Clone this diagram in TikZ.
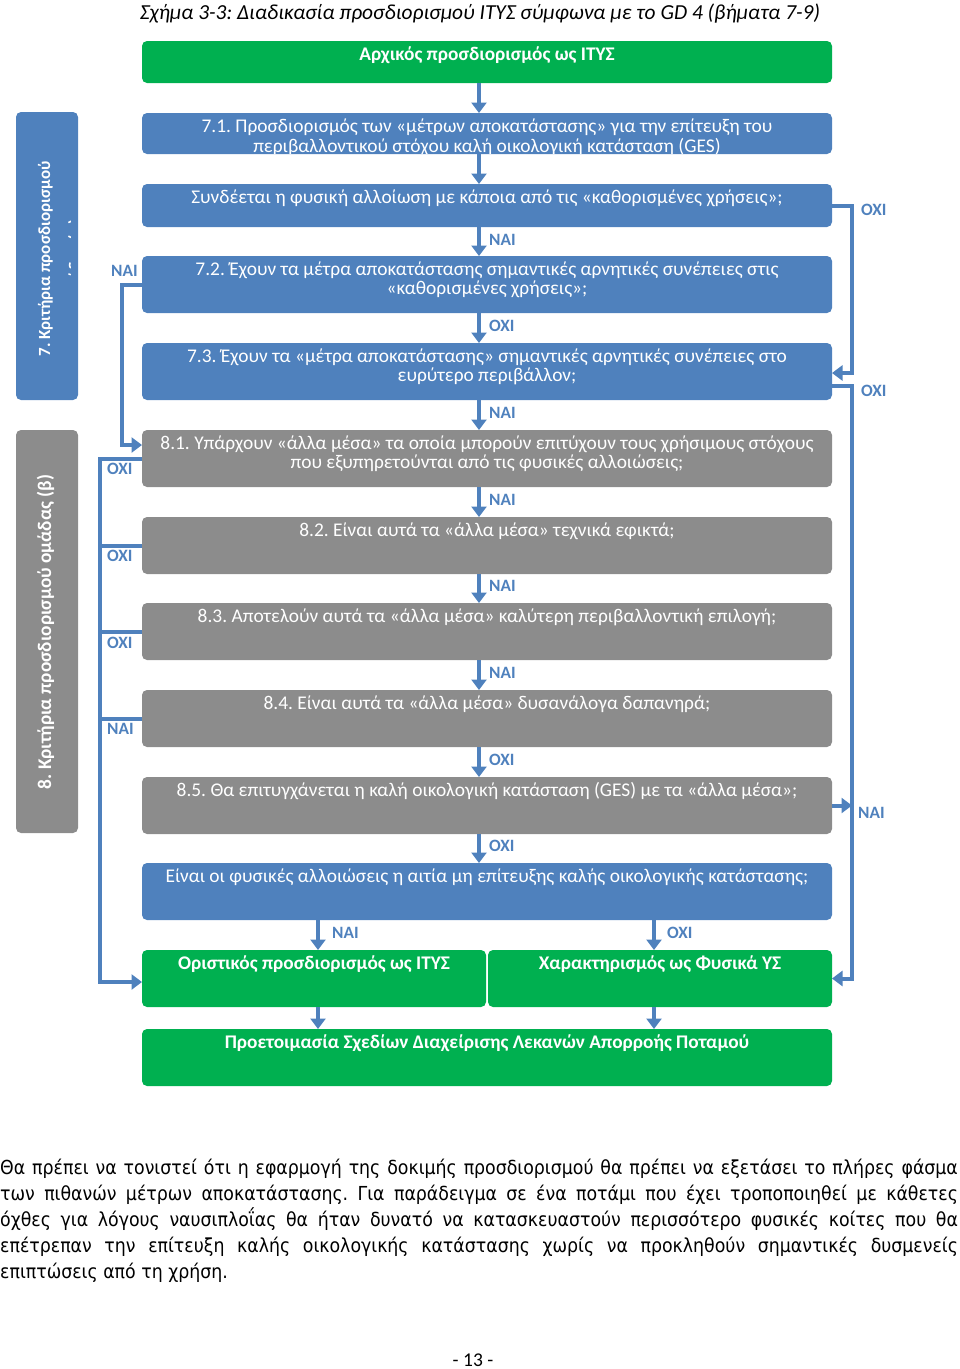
\documentclass[tikz,border=0pt]{standalone}
\usepackage{fontspec}
\setmainfont{Carlito}
\newfontfamily\parafont{DejaVu Sans Condensed}
\usetikzlibrary{arrows.meta,calc}
\definecolor{cblue}{HTML}{4F81BD}
\definecolor{cgreen}{HTML}{00B050}
\definecolor{cgray}{HTML}{8C8C8C}
\frenchspacing
\begin{document}
\begin{tikzpicture}[x=1pt, y=-1pt, line join=miter,
  box/.style={rounded corners=5pt, anchor=north west, inner sep=0pt, outer sep=0pt, minimum width=690pt},
  bbox/.style={box, fill=cblue},
  gbox/.style={box, fill=cgray},
  grbox/.style={box, fill=cgreen},
  btxt/.style={text=white, font=\fontsize{19.4}{19.5}\selectfont, align=center, anchor=base, inner sep=0pt},
  gtxt/.style={btxt, font=\bfseries\fontsize{19.3}{19.5}\selectfont},
  vtxt/.style={rotate=90, anchor=base, text=white, font=\bfseries\fontsize{17}{20}\selectfont, inner sep=0pt},
  lbl/.style={text=cblue, font=\bfseries\fontsize{17.3}{18}\selectfont, inner sep=0pt, anchor=west},
  conn/.style={draw=cblue, line width=4pt},
  arr/.style={conn, -{Triangle[width=15pt,length=10.5pt]}}
]
\useasboundingbox (0,0) rectangle (960,1369);

% title
\node[font=\itshape\fontsize{21.4}{23}\selectfont, anchor=base, inner sep=0pt] (title) at (480,19)
  {Σχήμα 3-3: Διαδικασία προσδιορισμού ΙΤΥΣ σύμφωνα με το GD 4 (βήματα 7-9)};

% named columns
\coordinate (XC) at (479,0);
\coordinate (XA) at (318,0);
\coordinate (XB) at (654,0);
\coordinate (LL) at (100,0);
\coordinate (LN) at (122,0);
\coordinate (RR) at (852,0);

% top green
\node[grbox, minimum height=42pt] (g0) at (142,41) {};
\node[gtxt] (t0) at (487,60) {Αρχικός προσδιορισμός ως ΙΤΥΣ};

% blue boxes
\node[bbox, minimum height=41pt] (b71) at (142,113) {};
\begin{scope}
  \clip (142,113) rectangle (832,153.5);
  \node[btxt] (t71) at (487,152) {7.1. Προσδιορισμός των «μέτρων αποκατάστασης» για την επίτευξη του\\περιβαλλοντικού στόχου καλή οικολογική κατάσταση (GES)};
\end{scope}
\node[bbox, minimum height=43pt] (b7q) at (142,184) {};
\node[btxt] (t7q) at (487,203.5) {Συνδέεται η φυσική αλλοίωση με κάποια από τις «καθορισμένες χρήσεις»;};
\node[bbox, minimum height=57pt] (b72) at (142,256) {};
\node[btxt] (t72) at (487,294.5) {7.2. Έχουν τα μέτρα αποκατάστασης σημαντικές αρνητικές συνέπειες στις\\«καθορισμένες χρήσεις»;};
\node[bbox, minimum height=57pt] (b73) at (142,343) {};
\node[btxt] (t73) at (487,381.5) {7.3. Έχουν τα «μέτρα αποκατάστασης» σημαντικές αρνητικές συνέπειες στο\\ευρύτερο περιβάλλον;};

% gray boxes
\node[gbox, minimum height=57pt] (g81) at (142,430) {};
\node[btxt] (t81) at (487,468.5) {8.1. Υπάρχουν «άλλα μέσα» τα οποία μπορούν επιτύχουν τους χρήσιμους στόχους\\που εξυπηρετούνται από τις φυσικές αλλοιώσεις;};
\node[gbox, minimum height=57pt] (g82) at (142,517) {};
\node[btxt] (t82) at (487,536) {8.2. Είναι αυτά τα «άλλα μέσα» τεχνικά εφικτά;};
\node[gbox, minimum height=57pt] (g83) at (142,603) {};
\node[btxt] (t83) at (487,622) {8.3. Αποτελούν αυτά τα «άλλα μέσα» καλύτερη περιβαλλοντική επιλογή;};
\node[gbox, minimum height=57pt] (g84) at (142,690) {};
\node[btxt] (t84) at (487,709) {8.4. Είναι αυτά τα «άλλα μέσα» δυσανάλογα δαπανηρά;};
\node[gbox, minimum height=57pt] (g85) at (142,777) {};
\node[btxt] (t85) at (487,796) {8.5. Θα επιτυγχάνεται η καλή οικολογική κατάσταση (GES) με τα «άλλα μέσα»;};

% final blue
\node[bbox, minimum height=57pt] (b9) at (142,863) {};
\node[btxt] (t9) at (487,882) {Είναι οι φυσικές αλλοιώσεις η αιτία μη επίτευξης καλής οικολογικής κατάστασης;};

% green results
\node[grbox, minimum width=344pt, minimum height=57pt] (g1) at (142,950) {};
\node[gtxt] (tg1) at (314,969) {Οριστικός προσδιορισμός ως ΙΤΥΣ};
\node[grbox, minimum width=344pt, minimum height=57pt] (g2) at (488,950) {};
\node[gtxt] (tg2) at (660,969) {Χαρακτηρισμός ως Φυσικά ΥΣ};
\node[grbox, minimum height=57pt] (g3) at (142,1029) {};
\node[gtxt] (tg3) at (487,1048) {Προετοιμασία Σχεδίων Διαχείρισης Λεκανών Απορροής Ποταμού};

% side boxes
\node[box, fill=cblue, minimum width=62pt, minimum height=288pt] (v7) at (16,112) {};
\begin{scope}
  \clip (16,112) rectangle (70,400);
  \node[vtxt] (v7t) at (50,259) {7. Κριτήρια προσδιορισμού};
  \node[vtxt] (v7u) at (80.5,259) {ομάδας (α)};
\end{scope}
\node[box, fill=cgray, minimum width=62pt, minimum height=403pt] (v8) at (16,430) {};
\node[vtxt, font=\bfseries\fontsize{19.3}{20}\selectfont] (v8t) at (51,632) {8. Κριτήρια προσδιορισμού ομάδας (β)};

% central arrows
\draw[arr] (g0.south -| XC) -- (b71.north -| XC);
\draw[arr] (b71.south -| XC) -- (b7q.north -| XC);
\draw[arr] (b7q.south -| XC) -- (b72.north -| XC);
\draw[arr] (b72.south -| XC) -- (b73.north -| XC);
\draw[arr] (b73.south -| XC) -- (g81.north -| XC);
\draw[arr] (g81.south -| XC) -- (g82.north -| XC);
\draw[arr] (g82.south -| XC) -- (g83.north -| XC);
\draw[arr] (g83.south -| XC) -- (g84.north -| XC);
\draw[arr] (g84.south -| XC) -- (g85.north -| XC);
\draw[arr] (g85.south -| XC) -- (b9.north -| XC);
\node[lbl] (l1) at (489,240) {ΝΑΙ};
\node[lbl] (l2) at (489,326) {ΟΧΙ};
\node[lbl] (l3) at (489,413) {ΝΑΙ};
\node[lbl] (l4) at (489,500) {ΝΑΙ};
\node[lbl] (l5) at (489,586) {ΝΑΙ};
\node[lbl] (l6) at (489,673) {ΝΑΙ};
\node[lbl] (l7) at (489,760) {ΟΧΙ};
\node[lbl] (l8) at (489,846) {ΟΧΙ};

% bottom arrows
\draw[arr] (b9.south -| XA) -- (g1.north -| XA);
\draw[arr] (b9.south -| XB) -- (g2.north -| XB);
\draw[arr] (g1.south -| XA) -- (g3.north -| XA);
\draw[arr] (g2.south -| XB) -- (g3.north -| XB);
\node[lbl] (l9) at (332,933) {ΝΑΙ};
\node[lbl] (l10) at (667,933) {ΟΧΙ};

% left connectors
\draw[arr] (b72.west) -- (b72.west -| LN) -- ([yshift=13.5pt]g81.west -| LN) -- ([yshift=13.5pt]g81.west);
\node[lbl] (l11) at (111,271) {ΝΑΙ};
\draw[arr] (g81.west) -- (g81.west -| LL) -- ([yshift=-3.5pt]g1.west -| LL) -- ([yshift=-3.5pt]g1.west);
\draw[conn] (g82.west) -- (g82.west -| LL);
\draw[conn] (g83.west) -- (g83.west -| LL);
\draw[conn] (g84.west) -- (g84.west -| LL);
\node[lbl] (l12) at (107,469) {ΟΧΙ};
\node[lbl] (l13) at (107,556) {ΟΧΙ};
\node[lbl] (l14) at (107,643) {ΟΧΙ};
\node[lbl] (l15) at (107,729) {ΝΑΙ};

% right connectors
\draw[arr] (b7q.east) -- (b7q.east -| RR) -- ([yshift=-1.5pt]b73.east -| RR) -- ([yshift=-1.5pt]b73.east);
\node[lbl] (l16) at (861,210) {ΟΧΙ};
\draw[arr] ([yshift=-14.5pt]b73.east) -- ([yshift=-14.5pt]b73.east -| RR) -- (g2.east -| RR) -- (g2.east);
\node[lbl] (l17) at (861,391) {ΟΧΙ};
\draw[arr] (g85.east) -- (g85.east -| RR);
\node[lbl] (l18) at (858,813) {ΝΑΙ};

% paragraph
\node[anchor=base west, inner sep=0pt, align=left, font=\parafont\fontsize{19.3}{26}\selectfont] (para) at (0,1278)
 {\makebox[958pt][s]{Θα πρέπει να τονιστεί ότι η εφαρμογή της δοκιμής προσδιορισμού θα πρέπει να εξετάσει το πλήρες φάσμα}\\
  \makebox[958pt][s]{των πιθανών μέτρων αποκατάστασης. Για παράδειγμα σε ένα ποτάμι που έχει τροποποιηθεί με κάθετες}\\
  \makebox[958pt][s]{όχθες για λόγους ναυσιπλοΐας θα ήταν δυνατό να κατασκευαστούν περισσότερο φυσικές κοίτες που θα}\\
  \makebox[958pt][s]{επέτρεπαν την επίτευξη καλής οικολογικής κατάστασης χωρίς να προκληθούν σημαντικές δυσμενείς}\\
  επιπτώσεις από τη χρήση.};
\node[font=\fontsize{19.5}{20}\selectfont, anchor=base, inner sep=0pt] (pg) at (473,1366) {- 13 -};
\end{tikzpicture}
\end{document}
